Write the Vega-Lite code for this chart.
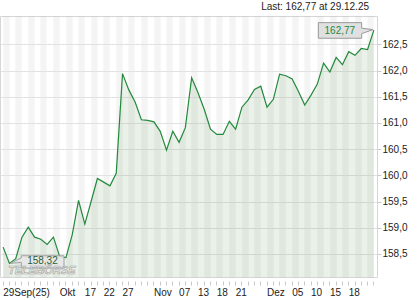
{
  "$schema": "https://vega.github.io/schema/vega-lite/v6.json",
  "width": 377,
  "height": 261,
  "autosize": "none",
  "padding": {"left": 0, "top": 16, "right": 43, "bottom": 23},
  "background": "white",
  "config": {
    "font": "Liberation Sans",
    "view": {"stroke": "#d6d6d6"},
    "locale": {"number": {"decimal": ",", "thousands": ".", "grouping": [3], "currency": ["", " €"]}}
  },
  "title": {"text": "Last: 162,77 at 29.12.25", "anchor": "end", "fontSize": 10, "fontWeight": "normal", "color": "#222222", "offset": 4, "dx": -38},
  "data": {"values": [
    {"date": "2025-09-29", "close": 158.63},
    {"date": "2025-09-30", "close": 158.32},
    {"date": "2025-10-01", "close": 158.41},
    {"date": "2025-10-02", "close": 158.82},
    {"date": "2025-10-06", "close": 159.01},
    {"date": "2025-10-07", "close": 158.82},
    {"date": "2025-10-08", "close": 158.78},
    {"date": "2025-10-09", "close": 158.68},
    {"date": "2025-10-10", "close": 158.82},
    {"date": "2025-10-13", "close": 158.45},
    {"date": "2025-10-14", "close": 158.43},
    {"date": "2025-10-15", "close": 158.87},
    {"date": "2025-10-16", "close": 159.52},
    {"date": "2025-10-17", "close": 159.07},
    {"date": "2025-10-20", "close": 159.50},
    {"date": "2025-10-21", "close": 159.94},
    {"date": "2025-10-22", "close": 159.87},
    {"date": "2025-10-23", "close": 159.80},
    {"date": "2025-10-24", "close": 160.04},
    {"date": "2025-10-27", "close": 161.94},
    {"date": "2025-10-28", "close": 161.63},
    {"date": "2025-10-29", "close": 161.40},
    {"date": "2025-10-30", "close": 161.06},
    {"date": "2025-10-31", "close": 161.05},
    {"date": "2025-11-03", "close": 161.02},
    {"date": "2025-11-04", "close": 160.84},
    {"date": "2025-11-05", "close": 160.48},
    {"date": "2025-11-06", "close": 160.84},
    {"date": "2025-11-07", "close": 160.63},
    {"date": "2025-11-10", "close": 160.91},
    {"date": "2025-11-12", "close": 161.86},
    {"date": "2025-11-13", "close": 161.58},
    {"date": "2025-11-14", "close": 161.26},
    {"date": "2025-11-17", "close": 160.88},
    {"date": "2025-11-18", "close": 160.78},
    {"date": "2025-11-19", "close": 160.78},
    {"date": "2025-11-20", "close": 161.03},
    {"date": "2025-11-21", "close": 160.88},
    {"date": "2025-11-24", "close": 161.30},
    {"date": "2025-11-25", "close": 161.44},
    {"date": "2025-11-26", "close": 161.64},
    {"date": "2025-11-28", "close": 161.70},
    {"date": "2025-12-01", "close": 161.30},
    {"date": "2025-12-02", "close": 161.45},
    {"date": "2025-12-03", "close": 161.93},
    {"date": "2025-12-04", "close": 161.90},
    {"date": "2025-12-05", "close": 161.84},
    {"date": "2025-12-08", "close": 161.60},
    {"date": "2025-12-09", "close": 161.34},
    {"date": "2025-12-10", "close": 161.53},
    {"date": "2025-12-11", "close": 161.74},
    {"date": "2025-12-12", "close": 162.14},
    {"date": "2025-12-15", "close": 161.97},
    {"date": "2025-12-16", "close": 162.25},
    {"date": "2025-12-17", "close": 162.11},
    {"date": "2025-12-18", "close": 162.36},
    {"date": "2025-12-19", "close": 162.29},
    {"date": "2025-12-22", "close": 162.42},
    {"date": "2025-12-23", "close": 162.40},
    {"date": "2025-12-29", "close": 162.77}
  ]},
  "encoding": {
    "x": {"field": "date", "type": "ordinal", "scale": {"type": "band", "paddingInner": 0, "paddingOuter": 0}, "bandPosition": 0.5, "axis": null},
    "y": {
      "field": "close", "type": "quantitative",
      "scale": {"domain": [158.06, 163.04], "nice": false, "zero": false},
      "axis": {"orient": "right", "values": [158.5, 159, 159.5, 160, 160.5, 161, 161.5, 162, 162.5], "format": ".1f", "title": null, "domain": false, "tickSize": 4, "tickColor": "#cccccc", "gridColor": "#e2e2e2", "labelFontSize": 10, "labelColor": "#222222", "labelPadding": 1}
    }
  },
  "resolve": {"axis": {"x": "independent"}},
  "layer": [
    {
      "mark": {"type": "area", "color": "#4a8a4a", "opacity": 0.12},
      "encoding": {
        "x": {"field": "date", "type": "ordinal", "bandPosition": 0.5,
          "axis": {"orient": "top", "values": ["2025-09-29","2025-10-01","2025-10-06","2025-10-08","2025-10-10","2025-10-14","2025-10-16","2025-10-20","2025-10-22","2025-10-24","2025-10-28","2025-10-30","2025-11-03","2025-11-05","2025-11-07","2025-11-12","2025-11-14","2025-11-18","2025-11-20","2025-11-24","2025-11-26","2025-12-01","2025-12-03","2025-12-05","2025-12-09","2025-12-11","2025-12-15","2025-12-17","2025-12-19","2025-12-23"],
            "bandPosition": 1, "grid": true, "gridColor": "#000000", "gridOpacity": 0.045, "gridWidth": 6.28, "labels": false, "ticks": false, "domain": false, "title": null}},
        "y2": {"datum": 158.06}
      }
    },
    {
      "mark": {"type": "line", "color": "#23893b", "strokeWidth": 1.2},
      "encoding": {
        "x": {"field": "date", "type": "ordinal", "bandPosition": 0.5,
          "axis": {"orient": "bottom", "bandPosition": 0.5, "offset": 4, "tickSize": 4, "tickColor": "#c8c8c8", "domain": false, "grid": false, "labelAngle": 0, "labelAlign": "left", "labelBaseline": "top", "labelPadding": 2, "labelOverlap": false, "labelBound": false, "labelFlush": false, "labelFontSize": 10, "labelColor": "#222222", "title": null,
            "labelExpr": "datum.value == '2025-09-29' ? '29Sep(25)' : datum.value == '2025-10-13' ? 'Okt' : datum.value == '2025-10-17' ? '17' : datum.value == '2025-10-22' ? '22' : datum.value == '2025-10-27' ? '27' : datum.value == '2025-11-03' ? 'Nov' : datum.value == '2025-11-07' ? '07' : datum.value == '2025-11-13' ? '13' : datum.value == '2025-11-18' ? '18' : datum.value == '2025-11-21' ? '21' : datum.value == '2025-12-01' ? 'Dez' : datum.value == '2025-12-05' ? '05' : datum.value == '2025-12-10' ? '10' : datum.value == '2025-12-15' ? '15' : datum.value == '2025-12-18' ? '18' : ''"}}
      }
    },
    {
      "transform": [{"filter": "datum.date == '2025-09-30'"}],
      "mark": {"type": "point", "shape": "M1.19,-0.76 L5.46,-0.76 L5.46,0.47 L1.19,0.47 L1.19,-0.1 L0.1,0 L1.19,-0.55 Z", "size": 400, "filled": true, "fill": "#e6e6e6", "fillOpacity": 0.85, "stroke": "#a0a0a0", "strokeWidth": 1, "opacity": 1}
    },
    {
      "transform": [{"filter": "datum.date == '2025-09-30'"}],
      "mark": {"type": "text", "color": "#2e5e38", "fontSize": 10, "align": "center", "baseline": "middle", "dx": 33, "dy": -2},
      "encoding": {"text": {"field": "close", "type": "quantitative", "format": ".2f"}}
    },
    {
      "transform": [{"filter": "datum.date == '2025-10-08'"}],
      "mark": {"type": "text", "text": "TELEBÖRSE", "fontSize": 11, "fontWeight": "bold", "fontStyle": "italic", "fill": "#f4f4f4", "fillOpacity": 0.6, "stroke": "#a0a0a0", "strokeWidth": 0.6, "align": "center", "baseline": "middle", "dx": 1},
      "encoding": {"y": {"datum": 158.17}}
    },
    {
      "transform": [{"filter": "datum.date == '2025-12-29'"}],
      "mark": {"type": "point", "shape": "M-5.55,-0.75 L-1.22,-0.75 L-1.22,-0.2 L-0.1,-0.05 L-1.22,0.35 L-1.22,0.81 L-5.55,0.81 Z", "size": 400, "filled": true, "fill": "#e0e0e0", "stroke": "#9a9a9a", "strokeWidth": 1, "opacity": 1}
    },
    {
      "transform": [{"filter": "datum.date == '2025-12-29'"}],
      "mark": {"type": "text", "color": "#23893b", "fontSize": 10, "align": "center", "baseline": "middle", "dx": -34, "dy": 0.5},
      "encoding": {"text": {"field": "close", "type": "quantitative", "format": ".2f"}}
    }
  ]
}
